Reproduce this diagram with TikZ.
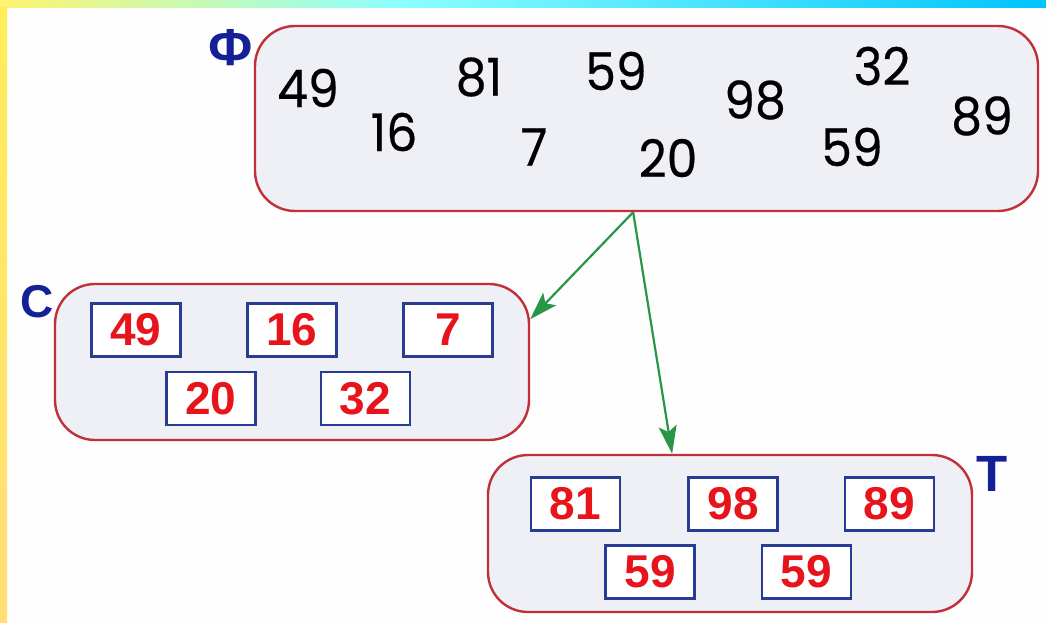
\documentclass[tikz,border=0pt]{standalone}
\usepackage{fontspec}
\setmainfont{Liberation Sans}
\newfontfamily\digfont{Poppins}[FakeStretch=0.94,FakeBold=0.4]
\newfontfamily\labfont{Liberation Sans}
\usetikzlibrary{arrows.meta,calc}
\definecolor{bandyel}{RGB}{255,244,110}
\definecolor{bandcyan}{RGB}{140,255,255}
\definecolor{bandblue}{RGB}{0,196,255}
\definecolor{leftyel}{RGB}{255,238,90}
\definecolor{leftor}{RGB}{255,222,120}
\definecolor{boxfill}{RGB}{238,240,246}
\definecolor{boxred}{RGB}{192,48,56}
\definecolor{inblue}{RGB}{40,60,150}
\definecolor{numred}{RGB}{232,20,28}
\definecolor{labblue}{RGB}{20,32,150}
\definecolor{arrgreen}{RGB}{40,150,70}
\tikzset{
  bigbox/.style={draw=boxred, line width=2.4pt, fill=boxfill, rounded corners=40pt, inner sep=0pt},
  numbox/.style={draw=inblue, line width=2.4pt, fill=white, minimum width=89pt, minimum height=53pt, inner sep=0pt,
     text=numred, font=\bfseries\fontsize{46}{46}\selectfont},
  blacknum/.style={inner sep=0pt, text=black, font=\digfont\fontsize{52}{52}\selectfont},
  setlabel/.style={inner sep=0pt, text=labblue, font=\labfont\bfseries\fontsize{44}{44}\selectfont},
  arr/.style={draw=arrgreen, line width=2.2pt, -{Stealth[length=28pt,width=18pt,inset=6pt]}, color=arrgreen}
}
\begin{document}
\begin{tikzpicture}[x=1pt,y=-1pt]
\useasboundingbox (0,0) rectangle (1046,623);
\fill[white!99!gray] (0,0) rectangle (1046,623);
% border bands
\shade[left color=bandyel, right color=bandcyan] (0,0) rectangle (400,8);
\shade[left color=bandcyan, right color=bandblue] (400,0) rectangle (1046,8);
\shade[top color=leftyel, bottom color=leftor] (0,8) rectangle (7,623);
% set boxes
\node[bigbox, minimum width=783pt, minimum height=185pt] (F) at (646.5,118.5) {};
\node[bigbox, minimum width=474pt, minimum height=156pt] (C) at (292,362) {};
\node[bigbox, minimum width=484pt, minimum height=157pt] (T) at (730,533.5) {};
% labels
\node[setlabel, font=\labfont\bfseries\fontsize{52}{52}\selectfont] (lF) at (231,48) {Ф};
\node[setlabel, font=\labfont\bfseries\fontsize{46}{46}\selectfont] (lC) at (37,302) {С};
\node[setlabel, font=\labfont\bfseries\fontsize{51}{51}\selectfont] (lT) at (992,474) {Т};
% numbers in F
\node[blacknum] (f49) at (308,88) {49};
\node[blacknum] (f16) at (394,132) {16};
\node[blacknum] (f81) at (479,77) {81};
\node[blacknum] (f7) at (534,147) {7};
\node[blacknum] (f59a) at (616,71) {59};
\node[blacknum] (f20) at (668,158) {20};
\node[blacknum] (f98) at (755,100) {98};
\node[blacknum] (f32) at (882,66) {32};
\node[blacknum] (f59b) at (852,147) {59};
\node[blacknum] (f89) at (982,116) {89};
% numbers in C
\node[numbox] (c49) at (136,330) {49};
\node[numbox] (c16) at (292,330) {16};
\node[numbox] (c7) at (448,330) {7};
\node[numbox] (c20) at (211,398.5) {20};
\node[numbox] (c32) at (365.5,398.5) {32};
% numbers in T
\node[numbox] (t81) at (575.5,504) {81};
\node[numbox] (t98) at (733,504) {98};
\node[numbox] (t89) at (889.5,504) {89};
\node[numbox] (t59a) at (650,572) {59};
\node[numbox] (t59b) at (806.5,572) {59};
% arrows
\coordinate (src) at ($(F.south west)!0.483!(F.south east)$);
\draw[arr] (src) -- ($(C.north east)!0.23!(C.south east)$);
\draw[arr] (src) -- ($(T.north west)!0.381!(T.north east)$);
\end{tikzpicture}
\end{document}
